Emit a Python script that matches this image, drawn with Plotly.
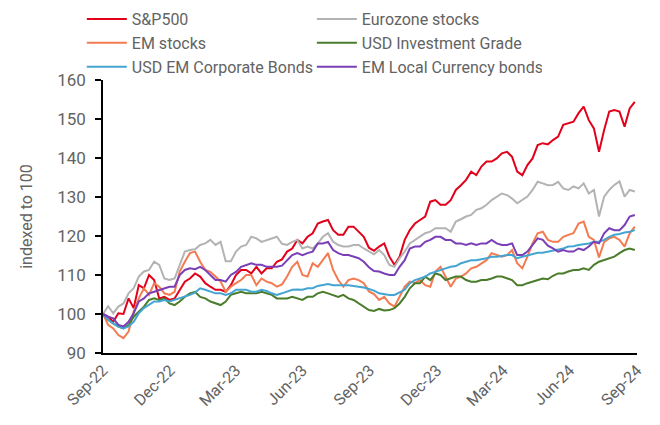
import pandas as pd
import plotly.graph_objects as go

# Weekly observations from 2022-09-30
dates = pd.date_range("2022-09-30", periods=105, freq="7D")

sp500 = [100, 99.3, 98, 100.2, 100, 104, 101.5, 107.4, 106.6, 110, 108.7, 104, 104.4, 103.6, 104, 106, 108.3, 109.1, 110.4,
         109.6, 107.9, 107, 106.2, 106.2, 105.7, 107.4, 110, 111.3, 111.3, 110.4, 112.1, 110.4, 111.7, 111.7, 113.4, 114,
         116, 116.8, 119, 118.1, 119.8, 120.7, 123.2, 123.7, 124.1, 121.5, 120.3, 120.3, 122.4, 122.4, 121.1, 119.8, 117, 116.2,
         117.3, 118.1, 114.7, 112.6, 114.7, 119, 121.5, 123.2, 124.1, 125, 128.8, 129.2, 128, 128, 129.2, 131.8, 133,
         134.4, 136.5, 135.6, 137.8, 139.1, 139.1, 139.9, 141.2, 141.6, 140.3, 136.5, 135.6, 138.2, 139.9, 143.3, 143.8, 143.5, 144.6,
         145.5, 148.5, 148.9, 149.3, 151.5, 153.2, 149.7, 147.6, 141.6, 147.2, 151.9, 152.3, 151.9, 148, 152.7, 154.4]

eurozone = [100, 102, 100.2, 101.9, 102.7, 105.3, 106.6, 109.6, 110.9, 111.3, 113.4, 112.6, 109.1, 108.7, 109.1, 112.6, 116, 116.4, 116.6,
            117.7, 118.1, 119, 117.7, 118.5, 113.5, 113.5, 116, 117.3, 117.7, 119.8, 119.4, 118.5, 119, 119.4, 119.8, 118,
            117.7, 118.5, 119, 116.8, 117.3, 116.8, 118.1, 119.8, 120.7, 118.5, 117.7, 117.3, 117.3, 117.7, 117.7, 116.8, 116, 115.3,
            116.4, 115.1, 112.6, 112.1, 114.3, 116, 118.1, 119, 119.8, 120.7, 121.1, 122, 122, 122, 121.1, 123.7, 124.3,
            125, 125.4, 126.7, 127.1, 128, 129.2, 130.1, 130.9, 130.5, 129.6, 128.4, 129.2, 130.1, 131.8, 133.9, 133.5, 133, 133.1,
            133.9, 132.2, 131.8, 132.7, 132.2, 133.5, 130.9, 131.8, 125, 130.1, 131.8, 133.1, 134, 130.1, 131.8, 131.4]

em_stocks = [100, 97.2, 96.3, 94.6, 93.8, 95.5, 100.6, 104, 106.6, 104.9, 107.9, 107, 105.3, 104.9, 105.7, 110.9, 113.4, 115.6, 116,
             113.4, 111.3, 110.8, 109.6, 108.3, 105.7, 107, 107.9, 108.7, 110, 110, 107.4, 109.1, 108.3, 107.9, 107, 107.6,
             109.6, 112.1, 113.4, 110, 109.6, 113, 112.1, 113.8, 115.6, 111.3, 108.7, 107, 108.7, 109.1, 108.7, 107.9, 105.8, 105.1,
             103.6, 104.4, 102.7, 101.9, 104.4, 107, 108.3, 107.9, 108.7, 107.4, 107, 110.9, 112.1, 109.6, 107, 109.1, 109.6,
             110.4, 111.7, 112.1, 113, 113.8, 115.6, 115.1, 114.7, 115.1, 116.4, 113, 111.7, 114.7, 118.1, 120.7, 121.1, 119, 118.5,
             118.5, 119.8, 120.3, 120.7, 123.2, 123.7, 119.8, 119, 114.5, 118.5, 119.4, 119.8, 119, 117.3, 120.7, 122.4]

usd_ig = [100, 98.5, 97.6, 96.8, 96.3, 97.2, 99.3, 100.6, 101.9, 103.6, 104, 103.6, 104, 102.7, 102.3, 103.2, 104.4, 105.3, 105.7,
          104.4, 104, 103.2, 102.7, 102.3, 103.2, 104.9, 105.3, 105.7, 105.3, 105.3, 105.3, 105.7, 105.3, 104.9, 104, 104,
          104, 104.4, 104, 103.6, 104.4, 104.4, 105.3, 105.7, 105.3, 104.9, 104.4, 104.9, 104, 103.6, 102.7, 101.8, 101, 100.8,
          101.3, 100.9, 101, 101.5, 102.7, 104.4, 106.6, 107.9, 107.9, 109.6, 108.7, 110.4, 110, 108.7, 109.1, 109.6, 109.6,
          108.7, 108.3, 108.3, 108.7, 108.7, 109.1, 109.6, 109.6, 109.1, 108.7, 107.4, 107.4, 107.9, 108.3, 108.7, 109.1, 108.9, 109.8,
          110.4, 110.4, 110.9, 111.3, 111.3, 111.7, 111.3, 112.6, 113.4, 113.8, 114.3, 114.7, 115.6, 116.4, 116.8, 116.4]

usd_em_corp = [100, 98.5, 97.6, 96.8, 96.3, 96.8, 98, 100.2, 101.5, 102.3, 103.2, 103.2, 103.6, 103.2, 103.6, 104, 104.4, 104.9, 105.5,
               106.6, 106.2, 105.7, 105.3, 105.3, 104.9, 105.3, 106.2, 106.2, 106.2, 105.7, 105.7, 106.2, 105.9, 105.3, 104.9, 105.3,
               105.7, 106.2, 106.3, 106.2, 106.6, 106.6, 107.2, 107.4, 107.7, 107.4, 107.4, 107.4, 107.4, 107.2, 107, 106.8, 106.4, 106,
               105.3, 105.1, 104.9, 104.9, 105.5, 106.2, 107.9, 108.7, 109.1, 109.6, 110.4, 110.9, 111.3, 111.7, 112.1, 112.3, 113,
               113.4, 113.8, 113.8, 114, 114.3, 114.7, 114.7, 114.9, 115.1, 115.1, 114.3, 114.7, 115.1, 115.4, 115.7, 115.7, 116, 116.2,
               116.6, 116.8, 117.3, 117.4, 117.7, 117.9, 118.1, 118.5, 118.5, 119, 119.8, 120.3, 120.5, 120.9, 121.1, 121.5]

em_local = [100, 99.3, 98.9, 97.2, 96.8, 98, 100.2, 103.2, 104, 105.3, 105.7, 106.2, 106.6, 107, 107, 110, 111.3, 111.7, 111.5,
            112.1, 111.3, 110, 108.7, 108.7, 108.3, 110, 110.8, 112.1, 112.6, 113, 112.6, 112.6, 112.1, 112.1, 112.1, 112.4,
            113.8, 115.1, 115.6, 115.1, 115.6, 116, 118.1, 118.1, 118.5, 116.4, 115.6, 115.1, 115.1, 114.7, 114.3, 113.4, 112, 111,
            110.9, 110.4, 110, 110, 112.1, 113.8, 116.8, 117.3, 117.3, 118.5, 119, 119.8, 119.8, 119, 119, 118.1, 118.1,
            117.7, 118.1, 117.7, 118.1, 118.1, 119, 118.1, 117.7, 117.7, 118.1, 115.1, 115.1, 116, 117.7, 119.4, 119, 117.5, 116.8,
            116, 116.4, 116, 116, 116.8, 116.4, 117.3, 118.5, 118.1, 120.7, 122, 121.5, 121.5, 122.8, 125, 125.4]

series_names = ["S&P500", "Eurozone stocks", "EM stocks", "USD Investment Grade",
                "USD EM Corporate Bonds", "EM Local Currency bonds"]
series_values = [sp500, eurozone, em_stocks, usd_ig, usd_em_corp, em_local]
series_colors = ["#E2001A", "#B3B3B3", "#F47A50", "#4A7C2B", "#45A5D2", "#7A3FB6"]

tick_dates = ["2022-09-30", "2022-12-31", "2023-03-31", "2023-06-30", "2023-09-30",
              "2023-12-31", "2024-03-31", "2024-06-30", "2024-09-30"]
tick_labels = ["Sep-22", "Dec-22", "Mar-23", "Jun-23", "Sep-23", "Dec-23", "Mar-24", "Jun-24", "Sep-24"]
y_ticks = [90, 100, 110, 120, 130, 140, 150, 160]

FONT = "Liberation Sans Narrow, Arial Narrow, Roboto, sans-serif"
GREY = "#636363"

fig = go.Figure()
for name, vals, col in zip(series_names, series_values, series_colors):
    fig.add_trace(go.Scatter(x=dates, y=vals, name=name, mode="lines",
                             line=dict(color=col, width=2)))

fig.update_layout(
    width=660, height=425,
    margin=dict(l=103, r=23, t=80, b=72, autoexpand=False),
    paper_bgcolor="white", plot_bgcolor="white",
    font=dict(family=FONT, size=16, color=GREY),
    legend=dict(orientation="h", xref="container", yref="container",
                x=0.124, y=0.995, xanchor="left", yanchor="top",
                entrywidth=175, itemwidth=40, traceorder="normal",
                font=dict(family=FONT, size=16, color=GREY),
                bgcolor="rgba(0,0,0,0)"),
    xaxis=dict(range=["2022-09-30", "2024-09-30"], tickvals=tick_dates, ticktext=tick_labels,
               tickangle=-45, showgrid=False, zeroline=False,
               showline=True, linecolor="black", linewidth=1.5, ticks="",
               tickfont=dict(family=FONT, size=16, color=GREY)),
    yaxis=dict(range=[90, 160], tickvals=y_ticks, showgrid=False, zeroline=False,
               showline=True, linecolor="black", linewidth=1.5,
               ticks="outside", ticklen=6, tickcolor="black", tickwidth=1.5,
               ticklabelstandoff=6,
               title=dict(text="indexed to 100", font=dict(family=FONT, size=16, color=GREY), standoff=21),
               tickfont=dict(family=FONT, size=17, color=GREY)),
)

fig.write_html("out.html", config={"displayModeBar": False},
               post_script="document.body.style.margin='0';document.body.style.overflow='hidden';")
